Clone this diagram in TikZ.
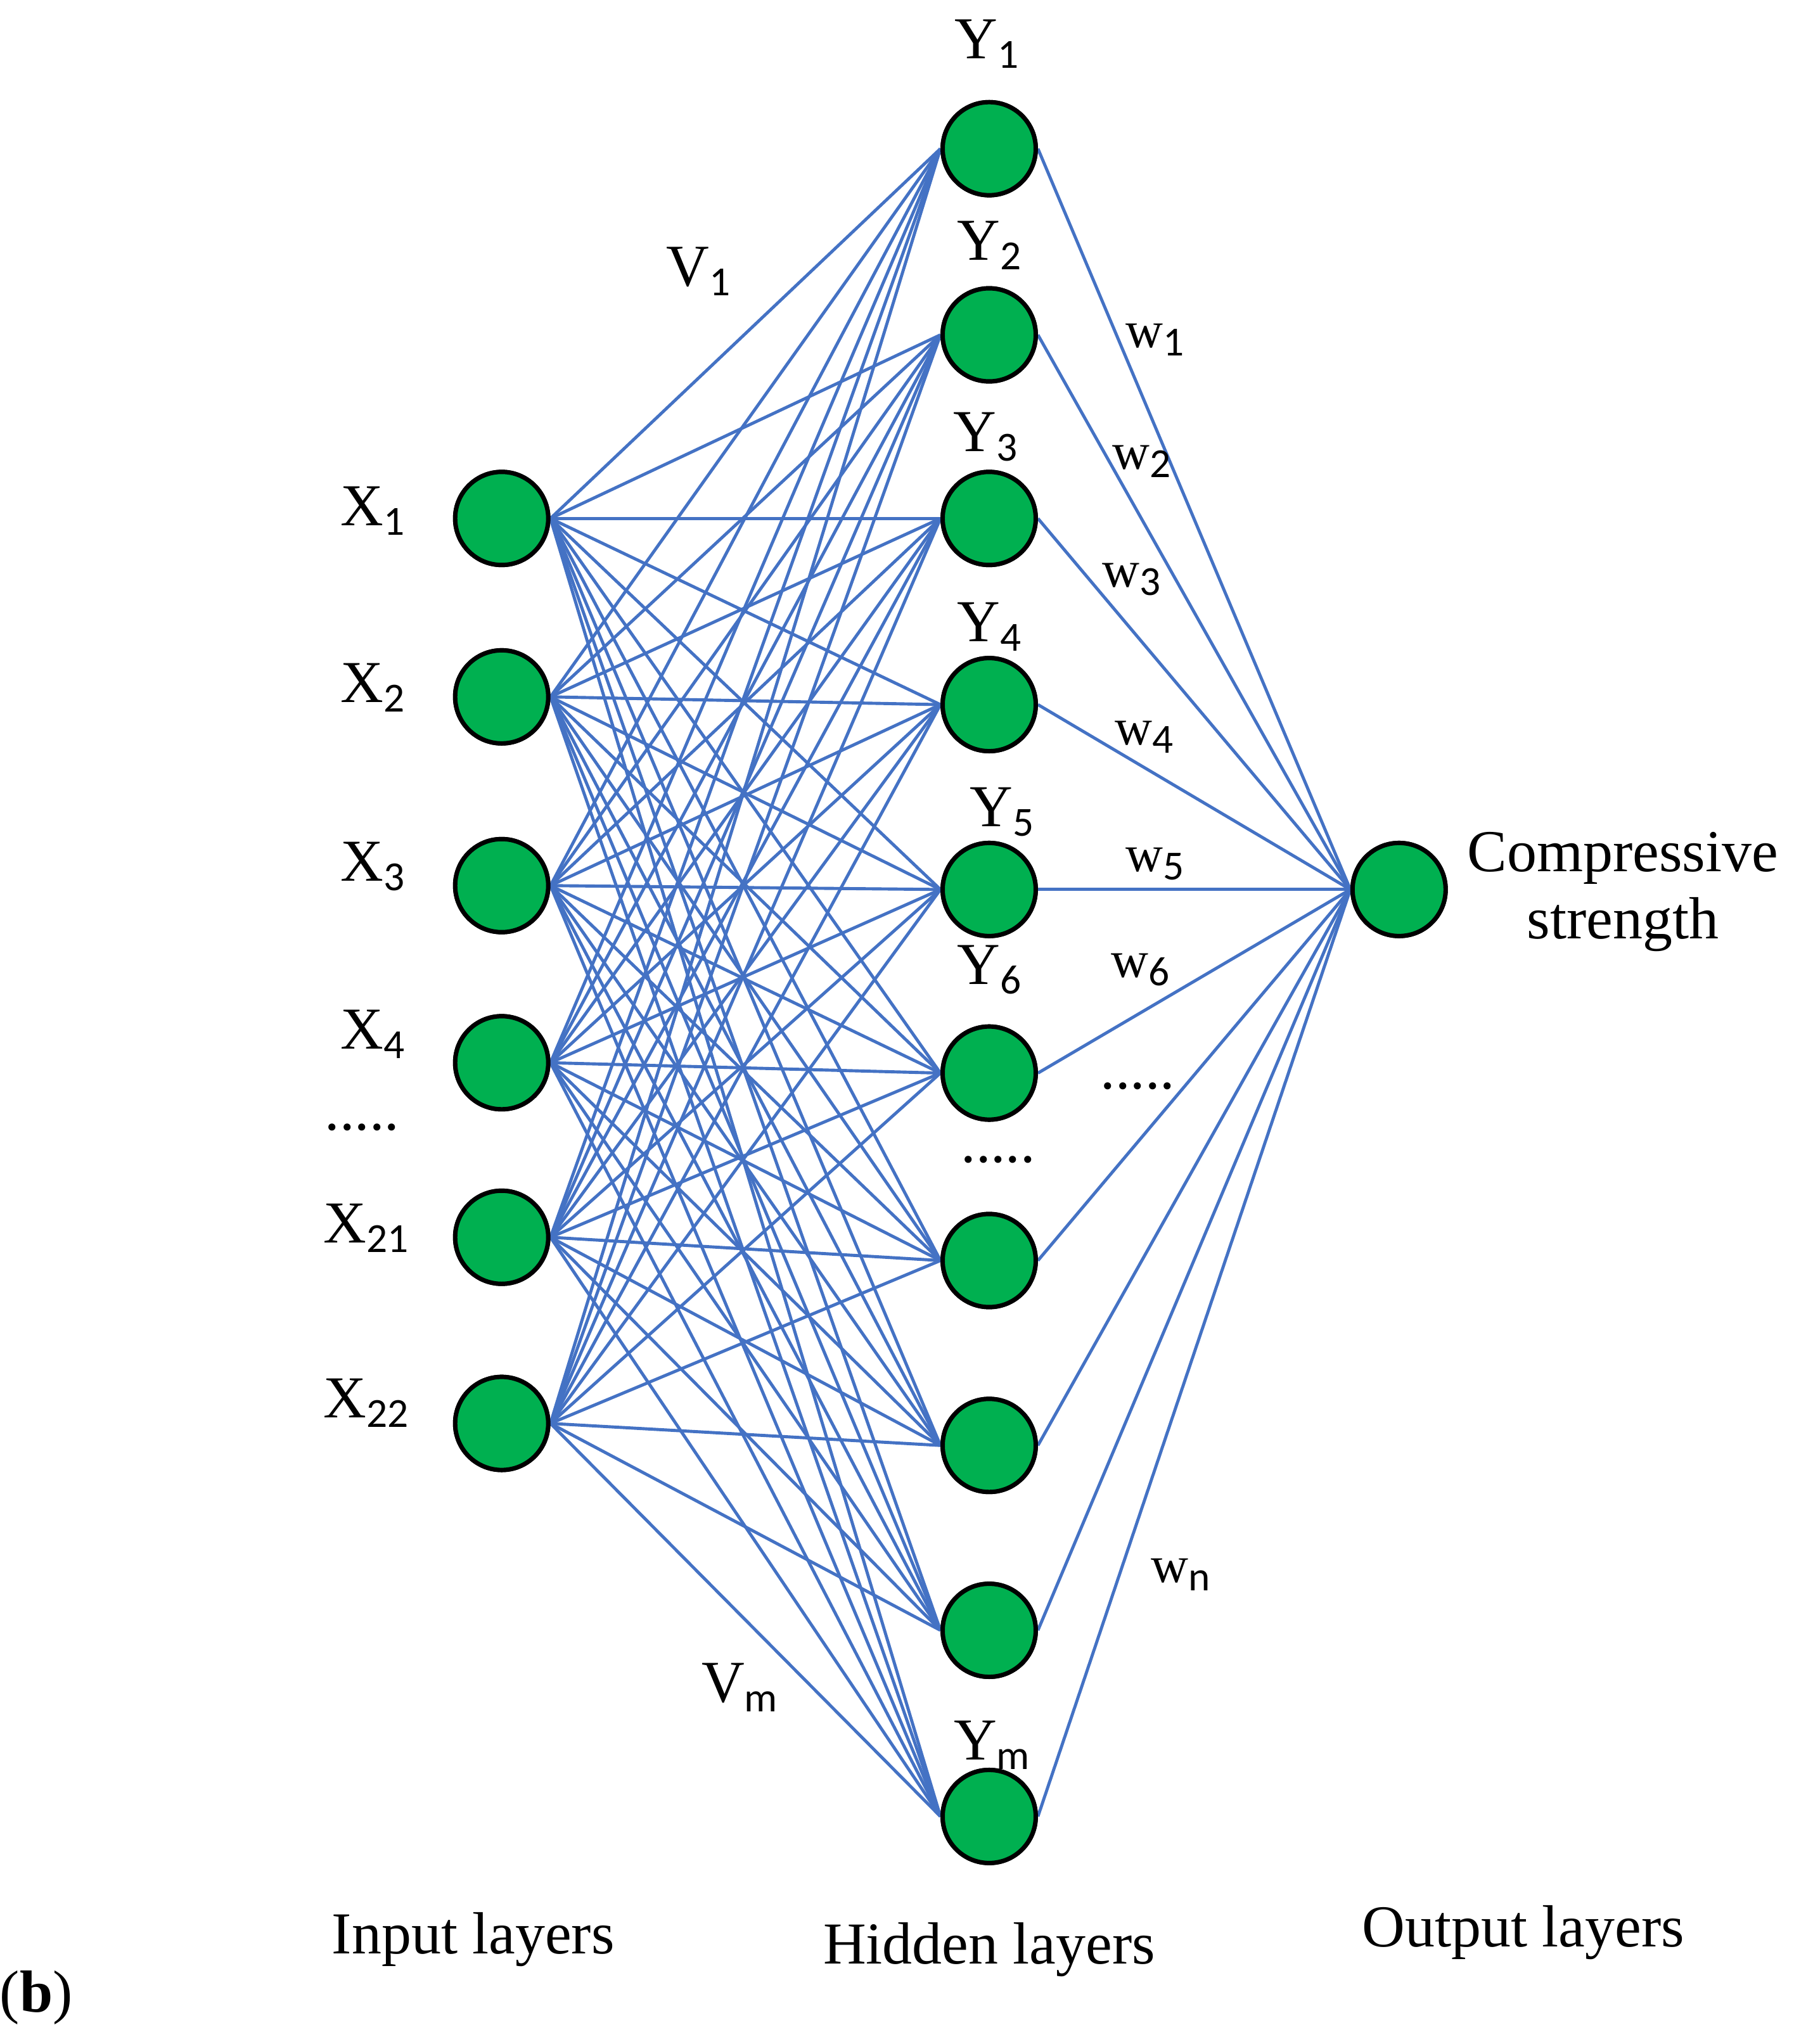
\documentclass[tikz,border=0pt]{standalone}
\usepackage{fontspec}
\setmainfont{Liberation Serif}
\newfontfamily\subf{Carlito}
\definecolor{edge}{RGB}{68,114,196}
\definecolor{neur}{RGB}{0,176,80}
\newcommand{\sbs}[1]{\raisebox{-0.35ex}{\subf\fontsize{16}{16}\selectfont #1}}
\begin{document}
\begin{tikzpicture}[x=0.5pt,y=-0.5pt,
  neuron/.style={circle,draw=black,line width=1.7pt,fill=neur,minimum size=36pt,inner sep=0pt},
  conn/.style={draw=edge,line width=1.2pt},
  lab/.style={font=\fontsize{23}{26}\selectfont,inner sep=0pt},
  wlab/.style={font=\fontsize{20}{23}\selectfont,inner sep=0pt}]
\useasboundingbox (0,0) rectangle (1387,1581);
\foreach \n/\y in {1/401,2/539,3/685,4/822,5/957,6/1101}
  \node[neuron] (i\n) at (388,\y) {};
\foreach \n/\y in {1/115,2/259,3/401,4/545,5/688,6/830,7/975,8/1118,9/1261,10/1405}
  \node[neuron] (h\n) at (765,\y) {};
\node[neuron] (o) at (1082,688) {};
\foreach \i in {1,...,6}
  \foreach \h in {1,...,10}
    \draw[conn] (i\i.east) -- (h\h.west);
\foreach \h in {1,...,10}
  \draw[conn] (h\h.east) -- (o.west);
\foreach \n in {1,...,6} \node[neuron] at (i\n) {};
\foreach \n in {1,...,10} \node[neuron] at (h\n) {};
\node[neuron] at (o) {};
% labels
\node[lab] (lx1) at (288,395) {X\sbs{1}};
\node[lab] (lx2) at (288,532) {X\sbs{2}};
\node[lab] (lx3) at (288,670) {X\sbs{3}};
\node[lab] (lx4) at (288,800) {X\sbs{4}};
\node[lab] (ldx) at (280,872) {.....};
\node[lab] (lx21) at (283,950) {X\sbs{21}};
\node[lab] (lx22) at (283,1085) {X\sbs{22}};
\node[lab] (ly1) at (763,34) {Y\sbs{1}};
\node[lab] (ly2) at (765,190) {Y\sbs{2}};
\node[lab] (ly3) at (762,338) {Y\sbs{3}};
\node[lab] (ly4) at (765,485) {Y\sbs{4}};
\node[lab] (ly5) at (775,628) {Y\sbs{5}};
\node[lab] (ly6) at (765,750) {Y\sbs{6}};
\node[lab] (ldy) at (772,897) {.....};
\node[lab] (lym) at (767,1350) {Y\sbs{m}};
\node[lab] (lv1) at (540,210) {V\sbs{1}};
\node[lab] (lvm) at (572,1305) {V\sbs{m}};
\node[wlab] (lw1) at (893,263) {w\sbs{1}};
\node[wlab] (lw2) at (883,357) {w\sbs{2}};
\node[wlab] (lw3) at (875,448) {w\sbs{3}};
\node[wlab] (lw4) at (885,570) {w\sbs{4}};
\node[wlab] (lw5) at (893,668) {w\sbs{5}};
\node[wlab] (lw6) at (882,750) {w\sbs{6}};
\node[lab] (ldw) at (880,840) {.....};
\node[wlab] (lwn) at (913,1218) {w\sbs{n}};
\node[lab,align=center] (lout) at (1255,690) {Compressive\\strength};
\node[lab] (lin) at (366,1500) {Input layers};
\node[lab] (lhid) at (765,1508) {Hidden layers};
\node[lab] (lol) at (1178,1495) {Output layers};
\node[lab] (lb) at (28,1545) {(\textbf{b})};
\end{tikzpicture}
\end{document}
